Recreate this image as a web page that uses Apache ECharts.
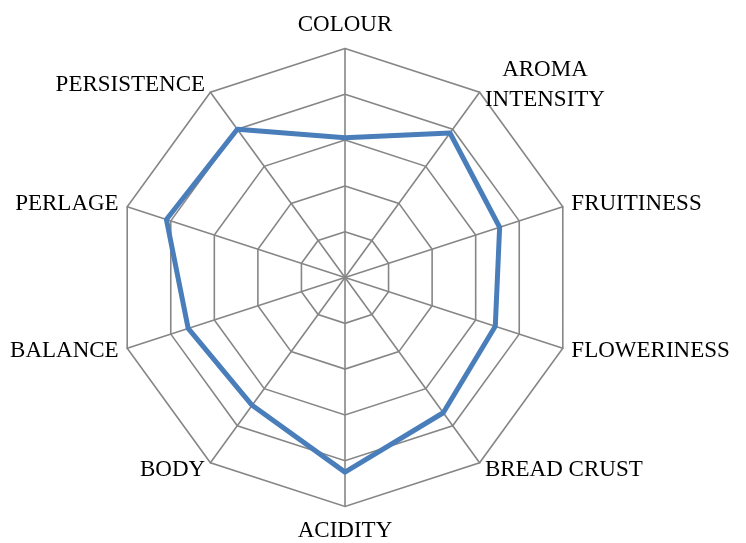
<!DOCTYPE html>
<html>
<head>
<meta charset="utf-8">
<script src="https://cdn.jsdelivr.net/npm/echarts@6/dist/echarts.min.js"></script>
<style>html,body{margin:0;padding:0;background:#fff}#c{width:746px;height:543px}</style>
</head>
<body>
<div id="c"></div>
<script>
// Categories in clockwise order starting at top
var categories = ['COLOUR', 'AROMA\nINTENSITY', 'FRUITINESS', 'FLOWERINESS', 'BREAD CRUST', 'ACIDITY', 'BODY', 'BALANCE', 'PERLAGE', 'PERSISTENCE'];
var values = [3.05, 3.9, 3.55, 3.45, 3.65, 4.25, 3.45, 3.6, 4.1, 4.0];
var maxValue = 5;
var ringCount = 5;

// ECharts places indicators counter-clockwise; reorder to go clockwise
var order = [0];
for (var i = categories.length - 1; i >= 1; i--) order.push(i);

var indicators = order.map(function (i) { return { name: categories[i], min: 0, max: maxValue }; });
var seriesData = order.map(function (i) { return values[i]; });

var chart = echarts.init(document.getElementById('c'), null, { renderer: 'canvas' });
chart.setOption({
  animation: false,
  backgroundColor: '#fff',
  radar: {
    center: [345, 277.5],
    radius: 229,
    startAngle: 90,
    splitNumber: ringCount,
    shape: 'polygon',
    indicator: indicators,
    axisNameGap: 9,
    axisName: {
      color: '#000',
      fontFamily: 'Liberation Serif',
      fontSize: 23,
      formatter: function (name) {
        return name.split('\n').map(function (s) { return '{c|' + s + '}'; }).join('\n');
      },
      rich: { c: { align: 'center', fontFamily: 'Liberation Serif', fontSize: 23, color: '#000', lineHeight: 30 } }
    },
    axisLine: { lineStyle: { color: '#868686', width: 1.6 } },
    splitLine: { lineStyle: { color: '#868686', width: 1.6 } },
    splitArea: { show: false },
    axisTick: { show: false },
    axisLabel: { show: false }
  },
  series: [{
    type: 'radar',
    symbol: 'none',
    lineStyle: { color: '#4a7ebb', width: 5 },
    data: [{ value: seriesData }]
  }]
});
</script>
</body>
</html>
